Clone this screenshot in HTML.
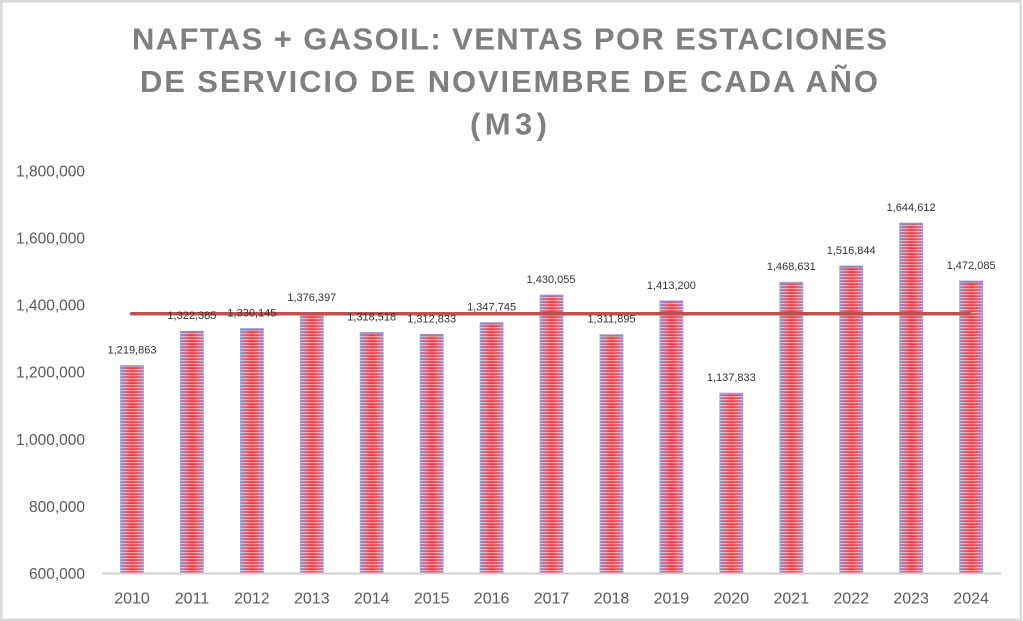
<!DOCTYPE html>
<html>
<head>
<meta charset="utf-8">
<style>
  html, body { margin: 0; padding: 0; background: #ffffff; }
  body { width: 1023px; height: 621px; overflow: hidden; }
  svg { display: block; }
  text { font-family: "Liberation Sans", "DejaVu Sans", sans-serif; }
</style>
</head>
<body>
<svg width="1023" height="621" viewBox="0 0 1023 621" xmlns="http://www.w3.org/2000/svg">
  <defs>
    <linearGradient id="barg" x1="0" y1="0" x2="1" y2="0">
      <stop offset="0" stop-color="#8c8cc8"/>
      <stop offset="0.22" stop-color="#d8607c"/>
      <stop offset="0.5" stop-color="#ff3434"/>
      <stop offset="0.78" stop-color="#d8607c"/>
      <stop offset="1" stop-color="#8c8cc8"/>
    </linearGradient>
    <pattern id="stripes" patternUnits="userSpaceOnUse" x="0" y="0" width="6" height="3">
      <rect x="0" y="0" width="6" height="1.2" fill="#ffffff" fill-opacity="0.5"/>
    </pattern>
  </defs>

  <rect x="0" y="0" width="1023" height="621" fill="#ffffff"/>
  <rect x="1.25" y="1.25" width="1019.5" height="618.5" fill="none" stroke="#d9d9d9" stroke-width="2.5"/>

  <!-- Title -->
  <g fill="#7f7f7f" font-weight="bold" font-size="31">
    <text x="132" y="49.5" textLength="755" lengthAdjust="spacing">NAFTAS + GASOIL: VENTAS POR ESTACIONES</text>
    <text x="140" y="92" textLength="738" lengthAdjust="spacing">DE SERVICIO DE NOVIEMBRE DE CADA AÑO</text>
    <text x="470" y="134.5" textLength="77" lengthAdjust="spacing">(M3)</text>
  </g>

  <!-- Y axis labels -->
  <g fill="#595959" font-size="15.5" text-anchor="end">
    <text x="85" y="176.5">1,800,000</text>
    <text x="85" y="243.6">1,600,000</text>
    <text x="85" y="310.7">1,400,000</text>
    <text x="85" y="377.7">1,200,000</text>
    <text x="85" y="444.8">1,000,000</text>
    <text x="85" y="511.9">800,000</text>
    <text x="85" y="579">600,000</text>
  </g>

  <!-- Bars -->
  <g stroke="#9c9cd4" stroke-width="0.8">
    <rect x="120.5" y="365.6" width="23" height="207.9" fill="url(#barg)"/>
    <rect x="180.4" y="331.2" width="23" height="242.3" fill="url(#barg)"/>
    <rect x="240.4" y="328.6" width="23" height="244.9" fill="url(#barg)"/>
    <rect x="300.3" y="313.1" width="23" height="260.4" fill="url(#barg)"/>
    <rect x="360.2" y="332.5" width="23" height="241.0" fill="url(#barg)"/>
    <rect x="420.2" y="334.4" width="23" height="239.1" fill="url(#barg)"/>
    <rect x="480.1" y="322.7" width="23" height="250.8" fill="url(#barg)"/>
    <rect x="540.0" y="295.1" width="23" height="278.4" fill="url(#barg)"/>
    <rect x="600.0" y="334.7" width="23" height="238.8" fill="url(#barg)"/>
    <rect x="659.9" y="300.8" width="23" height="272.7" fill="url(#barg)"/>
    <rect x="719.8" y="393.1" width="23" height="180.4" fill="url(#barg)"/>
    <rect x="779.8" y="282.2" width="23" height="291.3" fill="url(#barg)"/>
    <rect x="839.7" y="266.0" width="23" height="307.5" fill="url(#barg)"/>
    <rect x="899.6" y="223.1" width="23" height="350.4" fill="url(#barg)"/>
    <rect x="959.6" y="281.0" width="23" height="292.5" fill="url(#barg)"/>
  </g>
  <g fill="url(#stripes)">
    <rect x="120.5" y="365.6" width="23" height="207.9"/>
    <rect x="180.4" y="331.2" width="23" height="242.3"/>
    <rect x="240.4" y="328.6" width="23" height="244.9"/>
    <rect x="300.3" y="313.1" width="23" height="260.4"/>
    <rect x="360.2" y="332.5" width="23" height="241.0"/>
    <rect x="420.2" y="334.4" width="23" height="239.1"/>
    <rect x="480.1" y="322.7" width="23" height="250.8"/>
    <rect x="540.0" y="295.1" width="23" height="278.4"/>
    <rect x="600.0" y="334.7" width="23" height="238.8"/>
    <rect x="659.9" y="300.8" width="23" height="272.7"/>
    <rect x="719.8" y="393.1" width="23" height="180.4"/>
    <rect x="779.8" y="282.2" width="23" height="291.3"/>
    <rect x="839.7" y="266.0" width="23" height="307.5"/>
    <rect x="899.6" y="223.1" width="23" height="350.4"/>
    <rect x="959.6" y="281.0" width="23" height="292.5"/>
  </g>
  <!-- bluish top edges -->
  <g fill="#8c8cc8" fill-opacity="0.6">
    <rect x="120.5" y="365.6" width="23" height="2"/>
    <rect x="180.4" y="331.2" width="23" height="2"/>
    <rect x="240.4" y="328.6" width="23" height="2"/>
    <rect x="300.3" y="313.1" width="23" height="2"/>
    <rect x="360.2" y="332.5" width="23" height="2"/>
    <rect x="420.2" y="334.4" width="23" height="2"/>
    <rect x="480.1" y="322.7" width="23" height="2"/>
    <rect x="540.0" y="295.1" width="23" height="2"/>
    <rect x="600.0" y="334.7" width="23" height="2"/>
    <rect x="659.9" y="300.8" width="23" height="2"/>
    <rect x="719.8" y="393.1" width="23" height="2"/>
    <rect x="779.8" y="282.2" width="23" height="2"/>
    <rect x="839.7" y="266.0" width="23" height="2"/>
    <rect x="899.6" y="223.1" width="23" height="2"/>
    <rect x="959.6" y="281.0" width="23" height="2"/>
  </g>

  <!-- X axis line -->
  <line x1="102" y1="573.5" x2="1001" y2="573.5" stroke="#d0d0d0" stroke-width="2"/>

  <!-- Average line -->
  <line x1="131.5" y1="313.8" x2="969.5" y2="313.8" stroke="#c0504d" stroke-width="3.5" stroke-linecap="round"/>

  <!-- Data labels -->
  <g fill="#333333" font-size="11" text-anchor="middle">
    <text x="132.0" y="353.6">1,219,863</text>
    <text x="191.9" y="319.2">1,322,385</text>
    <text x="251.9" y="316.6">1,330,145</text>
    <text x="311.8" y="301.1">1,376,397</text>
    <text x="371.7" y="320.5">1,318,518</text>
    <text x="431.7" y="322.4">1,312,833</text>
    <text x="491.6" y="310.7">1,347,745</text>
    <text x="551.0" y="283.1">1,430,055</text>
    <text x="611.5" y="322.7">1,311,895</text>
    <text x="671.4" y="288.8">1,413,200</text>
    <text x="731.3" y="381.1">1,137,833</text>
    <text x="791.3" y="270.2">1,468,631</text>
    <text x="851.2" y="254.0">1,516,844</text>
    <text x="911.1" y="211.1">1,644,612</text>
    <text x="971.1" y="269.0">1,472,085</text>
  </g>

  <!-- X axis labels -->
  <g fill="#595959" font-size="16" text-anchor="middle">
    <text x="132.0" y="603.3">2010</text>
    <text x="191.9" y="603.3">2011</text>
    <text x="251.9" y="603.3">2012</text>
    <text x="311.8" y="603.3">2013</text>
    <text x="371.7" y="603.3">2014</text>
    <text x="431.7" y="603.3">2015</text>
    <text x="491.6" y="603.3">2016</text>
    <text x="551.5" y="603.3">2017</text>
    <text x="611.5" y="603.3">2018</text>
    <text x="671.4" y="603.3">2019</text>
    <text x="731.3" y="603.3">2020</text>
    <text x="791.3" y="603.3">2021</text>
    <text x="851.2" y="603.3">2022</text>
    <text x="911.1" y="603.3">2023</text>
    <text x="971.1" y="603.3">2024</text>
  </g>
</svg>
</body>
</html>
